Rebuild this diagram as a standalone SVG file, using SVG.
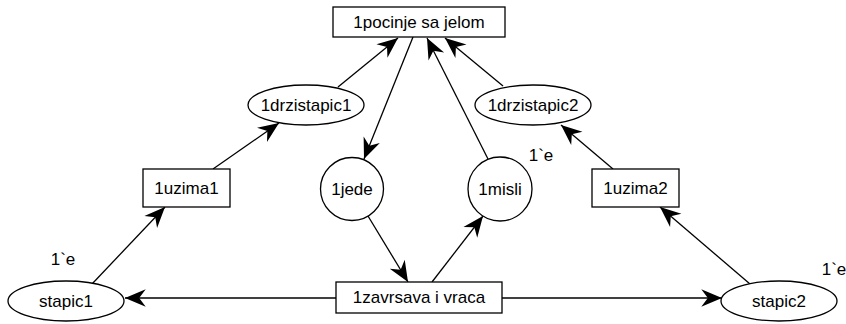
<svg xmlns="http://www.w3.org/2000/svg" width="846" height="324" viewBox="0 0 846 324">
<defs>
<marker id="ah" markerUnits="userSpaceOnUse" markerWidth="24" markerHeight="24" viewBox="-20 -10 22 20" refX="0" refY="0" orient="auto">
<path d="M0,0 L-19,-8 L-13,0 L-19,8 Z" fill="#000"/>
</marker>
</defs>
<style>
.n{fill:#fff;stroke:#000;stroke-width:1.3}
.t{font-family:"Liberation Sans",Arial,sans-serif;font-size:17px;text-anchor:middle;dominant-baseline:central;fill:#000}
.e{stroke:#000;stroke-width:1.3;fill:none;marker-end:url(#ah)}
</style>
<rect width="846" height="324" fill="#fff"/>
<g id="connectors">
<line class="e" x1="338" y1="87" x2="398" y2="38"/>
<line class="e" x1="413" y1="37" x2="364" y2="159"/>
<line class="e" x1="488" y1="159" x2="427" y2="38"/>
<line class="e" x1="503" y1="86" x2="445" y2="38"/>
<line class="e" x1="213" y1="169" x2="279" y2="123"/>
<line class="e" x1="613" y1="169" x2="561" y2="125"/>
<line class="e" x1="92" y1="284" x2="165" y2="207"/>
<line class="e" x1="750" y1="284" x2="660" y2="207"/>
<line class="e" x1="368" y1="216" x2="408" y2="282"/>
<line class="e" x1="432" y1="282" x2="483" y2="216"/>
<line class="e" x1="336" y1="298" x2="125" y2="298"/>
<line class="e" x1="502" y1="298" x2="722" y2="298"/>
</g>
<g id="pocinje"><rect class="n" x="333" y="7" width="172" height="30"/><text class="t" x="419" y="22">1pocinje sa jelom</text></g>
<g id="drzistapic1"><ellipse class="n" cx="306" cy="105" rx="58" ry="20"/><text class="t" x="306" y="105">1drzistapic1</text></g>
<g id="drzistapic2"><ellipse class="n" cx="533" cy="105" rx="58" ry="20"/><text class="t" x="533" y="105">1drzistapic2</text></g>
<g id="uzima1"><rect class="n" x="143" y="169" width="87" height="38"/><text class="t" x="186.5" y="188">1uzima1</text></g>
<g id="uzima2"><rect class="n" x="592" y="169" width="87" height="38"/><text class="t" x="635.5" y="188">1uzima2</text></g>
<g id="jede"><circle class="n" cx="352" cy="189" r="31.5"/><text class="t" x="352" y="189">1jede</text></g>
<g id="misli"><circle class="n" cx="500" cy="189" r="32"/><text class="t" x="500" y="189">1misli</text><text class="t" x="541" y="155">1`e</text></g>
<g id="zavrsava"><rect class="n" x="336" y="282" width="166" height="31"/><text class="t" x="419" y="297.5">1zavrsava i vraca</text></g>
<g id="stapic1"><ellipse class="n" cx="66" cy="301" rx="58" ry="20"/><text class="t" x="66" y="301">stapic1</text><text class="t" x="63" y="259">1`e</text></g>
<g id="stapic2"><ellipse class="n" cx="779" cy="301" rx="58" ry="20"/><text class="t" x="779" y="301">stapic2</text><text class="t" x="834" y="269">1`e</text></g>
</svg>
